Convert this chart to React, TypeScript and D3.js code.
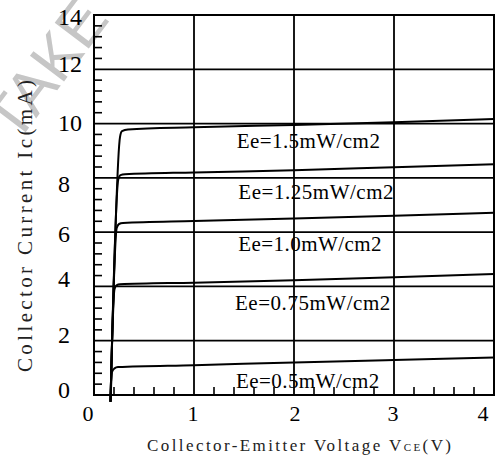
import React, { useEffect, useRef } from 'react'
import * as d3 from 'd3'

// axis values
const xGrid = [1, 2, 3]
const yGrid = [2, 4, 6, 8, 10, 12]
const xTickLabels = ['0', '1', '2', '3', '4']
// where each label sits (in volts) - the original sheet has them a bit off
const xLabelAt = [-0.06, 0.99, 2.01, 2.99, 3.89]
const yTickLabels = ['0', '2', '4', '6', '8', '10', '12', '14']
// label centres in mA
const yLabelAt = [0.18, 2.21, 4.27, 5.93, 7.77, 10.04, 12.19, 13.95]

// Ic vs Vce curves, one per irradiance
const ee050 = [[0.165, -0.25], [0.18, 0.85], [0.205, 0.98], [0.24, 1.03], [1.0, 1.1], [2.0, 1.2], [3.0, 1.29], [4.0, 1.38]]
const ee075 = [[0.165, -0.25], [0.205, 3.9], [0.225, 4.04], [0.26, 4.08], [1.0, 4.14], [2.0, 4.23], [3.0, 4.34], [4.0, 4.46]]
const ee100 = [[0.165, -0.25], [0.227, 6.15], [0.25, 6.3], [0.29, 6.34], [1.0, 6.41], [2.0, 6.5], [3.0, 6.6], [4.0, 6.71]]
const ee125 = [[0.165, -0.25], [0.243, 7.95], [0.265, 8.1], [0.31, 8.13], [1.0, 8.2], [2.0, 8.28], [3.0, 8.39], [4.0, 8.5]]
const ee150 = [[0.165, -0.25], [0.26, 9.5], [0.28, 9.72], [0.34, 9.78], [1.0, 9.86], [2.0, 9.95], [3.0, 10.05], [4.0, 10.17]]
const curves = [ee050, ee075, ee100, ee125, ee150]

const curveLabels = ['Ee=0.5mW/cm2', 'Ee=0.75mW/cm2', 'Ee=1.0mW/cm2', 'Ee=1.25mW/cm2', 'Ee=1.5mW/cm2']
// label baseline anchor in data units (V, mA)
const curveLabelAt = [[1.42, 0.26], [1.41, 3.13], [1.443, 5.31], [1.443, 7.22], [1.427, 9.11]]

const W = 499
const H = 458
// the sheet uses half-width glyphs, ~12px per char at this size
const CHAR_W = 12.1

const App: React.FC = () => {
    const ref = useRef<any>()
    useEffect(() => {
        const svg = d3.select(ref.current)
        const x = d3.scaleLinear().domain([0, 4]).range([94, 494])
        const y = d3.scaleLinear().domain([0, 14]).range([395, 15])

        // watermark
        svg.select('.wm')
            .selectAll('text')
            .data(['TAKE'])
            .join('text')
            .attr('transform', 'translate(16, 145) rotate(-53)')
            .attr('font-family', 'Liberation Sans')
            .attr('font-size', 62)
            .attr('fill', '#c6c6c6')
            .text((d) => d)

        const grid = svg.select('.grid')
        grid.selectAll('line.gx')
            .data(xGrid)
            .join('line')
            .attr('class', 'gx')
            .attr('x1', (d) => x(d))
            .attr('x2', (d) => x(d))
            .attr('y1', y(0))
            .attr('y2', y(14))
        grid.selectAll('line.gy')
            .data(yGrid)
            .join('line')
            .attr('class', 'gy')
            .attr('x1', x(0))
            .attr('x2', x(4))
            .attr('y1', (d) => y(d))
            .attr('y2', (d) => y(d))
        grid.attr('stroke', 'black').attr('stroke-width', 1.8)

        // minor ticks
        const yMinor = d3.range(0.4, 14, 0.4).filter((v) => Math.abs(v / 2 - Math.round(v / 2)) > 0.01)
        const xMinor = d3.range(0.2, 4, 0.2).filter((v) => Math.abs(v - Math.round(v)) > 0.01)
        const ticks = svg.select('.ticks').attr('stroke', 'black').attr('stroke-width', 1.6)
        ticks.selectAll('line.ty')
            .data(yMinor)
            .join('line')
            .attr('class', 'ty')
            .attr('x1', x(0))
            .attr('x2', x(0) + 8)
            .attr('y1', (d) => y(d))
            .attr('y2', (d) => y(d))
        ticks.selectAll('line.tx')
            .data(xMinor)
            .join('line')
            .attr('class', 'tx')
            .attr('x1', (d) => x(d))
            .attr('x2', (d) => x(d))
            .attr('y1', y(0))
            .attr('y2', y(0) - 8)

        svg.select('.frame')
            .selectAll('rect')
            .data([0])
            .join('rect')
            .attr('x', x(0))
            .attr('y', y(14))
            .attr('width', x(4) - x(0))
            .attr('height', y(0) - y(14))
            .attr('fill', 'none')
            .attr('stroke', 'black')
            .attr('stroke-width', 2)

        const line = d3
            .line<number[]>()
            .curve(d3.curveMonotoneX)
            .x((d) => x(d[0]))
            .y((d) => y(d[1]))
        svg.select('.curves')
            .selectAll('path')
            .data(curves)
            .join('path')
            .attr('fill', 'none')
            .attr('stroke', 'black')
            .attr('stroke-width', 2)
            .attr('d', (d) => line(d))

        svg.select('.clabels')
            .selectAll('text')
            .data(curveLabels)
            .join('text')
            .attr('x', (d, i) => x(curveLabelAt[i][0]))
            .attr('y', (d, i) => y(curveLabelAt[i][1]))
            .attr('font-family', 'Liberation Serif')
            .attr('font-size', 21)
            .attr('textLength', (d) => d.length * CHAR_W - 2)
            .attr('lengthAdjust', 'spacing')
            .attr('fill', 'black')
            .text((d) => d)

        svg.select('.ylabels')
            .selectAll('text')
            .data(yTickLabels)
            .join('text')
            .attr('x', 58)
            .attr('y', (d, i) => y(yLabelAt[i]))
            .attr('dy', '0.34em')
            .attr('font-family', 'Liberation Serif')
            .attr('font-size', 24)
            .text((d) => d)

        svg.select('.xlabels')
            .selectAll('text')
            .data(xTickLabels)
            .join('text')
            .attr('x', (d, i) => x(xLabelAt[i]))
            .attr('y', 421)
            .attr('text-anchor', 'middle')
            .attr('font-family', 'Liberation Serif')
            .attr('font-size', 22)
            .text((d) => d)
    }, [])

    return (
        <div style={{ position: 'absolute', left: 0, top: 0, width: W, height: H }}>
            <svg ref={ref} width={W} height={H} viewBox={`0 0 ${W} ${H}`} style={{ display: 'block', background: 'white' }}>
                <g className='wm'></g>
                <g className='grid'></g>
                <g className='ticks'></g>
                <g className='frame'></g>
                <g className='curves'></g>
                <g className='clabels'></g>
                <g className='ylabels'></g>
                <g className='xlabels'></g>
                <text
                    transform='translate(32, 372) rotate(-90)'
                    fontFamily='Liberation Serif'
                    fontSize={21}
                    fill='#222'
                    textLength={292}
                    lengthAdjust='spacing'
                >
                    Collector Current Ic(mA)
                </text>
                <text
                    x={147}
                    y={451}
                    fontFamily='Liberation Serif'
                    fontSize={17}
                    fill='#222'
                    textLength={304}
                    lengthAdjust='spacing'
                >
                    Collector-Emitter Voltage V<tspan fontSize={11}>CE</tspan>(V)
                </text>
            </svg>
        </div>
    )
}

export default App
